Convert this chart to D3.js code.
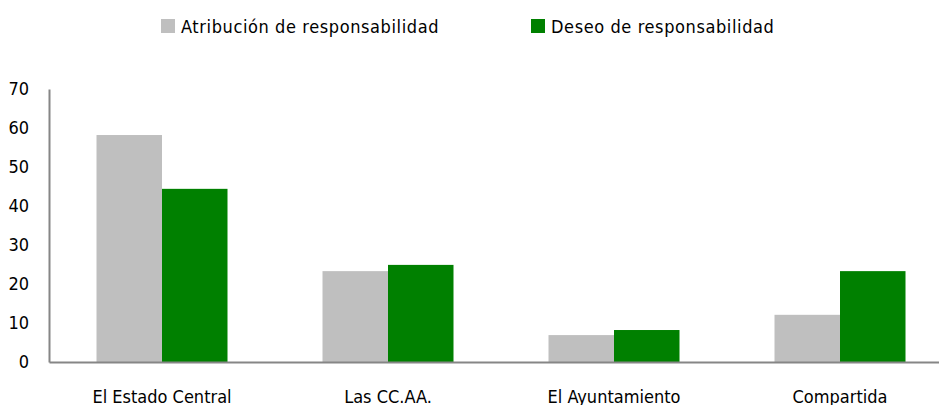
<!DOCTYPE html>
<html>
<head>
<meta charset="utf-8">
<script src="https://cdn.jsdelivr.net/npm/d3@7"></script>
<style>
  body { margin: 0; background: #fff; }
  svg text { font-family: "Liberation Sans Narrow", "DejaVu Sans Condensed", sans-serif; fill: #000; }
</style>
</head>
<body>
<svg id="chart"></svg>
<script>
const categories = ["El Estado Central", "Las CC.AA.", "El Ayuntamiento", "Compartida"];
const seriesNames = ["Atribución de responsabilidad", "Deseo de responsabilidad"];
const atribucion = [58.2, 23.3, 6.9, 12.1];
const deseo = [44.4, 24.9, 8.2, 23.3];
const yTicks = [0, 10, 20, 30, 40, 50, 60, 70];
const colors = ["#bfbfbf", "#008000"];

const width = 939, height = 405;
const svg = d3.select("#chart").attr("width", width).attr("height", height);

// plot area runs a bit past the right edge, like the original
let x = d3.scaleBand().domain(categories).range([49, 953]);
let y = d3.scaleLinear().domain([0, 70]).range([362, 89]);
const barW = 65.5;

let series = [atribucion, deseo];
series.forEach((vals, s) => {
  svg.append("g").selectAll("rect")
    .data(vals)
    .enter().append("rect")
    .attr("x", (d, i) => x(categories[i]) + x.bandwidth() / 2 - barW + s * barW)
    .attr("y", d => y(d))
    .attr("width", barW)
    .attr("height", d => y(0) - y(d))
    .attr("fill", colors[s]);
});

// y axis
let yAxis = svg.append("g")
  .attr("transform", "translate(49,0)")
  .call(d3.axisLeft(y).tickValues(yTicks).tickSize(0).tickPadding(20));
yAxis.select(".domain").attr("stroke", "#868686").attr("stroke-width", 2);
yAxis.selectAll("text").attr("font-size", 18).attr("fill", "#000")
  .style("font-family", "'Liberation Sans Narrow', 'DejaVu Sans Condensed', sans-serif");

// x axis
let xAxis = svg.append("g")
  .attr("transform", "translate(0,362)")
  .call(d3.axisBottom(x).tickSize(0).tickPadding(28));
xAxis.select(".domain").attr("stroke", "#868686").attr("stroke-width", 2);
xAxis.selectAll("text").attr("font-size", 18).attr("fill", "#000")
  .style("font-family", "'Liberation Sans Narrow', 'DejaVu Sans Condensed', sans-serif");

// legend
const legendX = [161, 531];
seriesNames.forEach((name, i) => {
  let g = svg.append("g").attr("transform", "translate(" + legendX[i] + ",0)");
  g.append("rect").attr("x", 0).attr("y", 19).attr("width", 14).attr("height", 14).attr("fill", colors[i]);
  g.append("text").attr("x", 20).attr("y", 33).attr("font-size", 18)
    .attr("letter-spacing", 0.6).text(name);
});
</script>
</body>
</html>
